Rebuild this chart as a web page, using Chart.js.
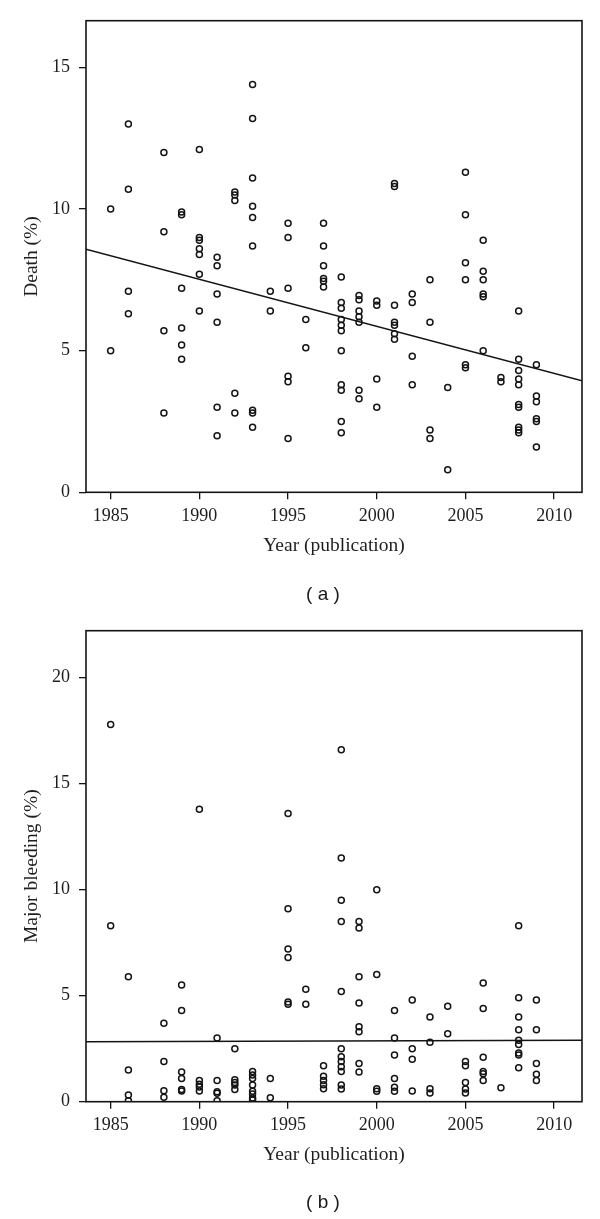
<!DOCTYPE html>
<html><head><meta charset="utf-8">
<script src="https://cdn.jsdelivr.net/npm/chart.js@4.4.1/dist/chart.umd.min.js"></script>
<style>
html,body{margin:0;padding:0;background:#fff;}
body{width:600px;height:1219px;position:relative;overflow:hidden;}
.wrap{position:absolute;left:0;width:600px;}
#wa{top:0;height:610px;}
#wb{top:610px;height:609px;}
.cap{position:absolute;width:100px;text-align:center;font-family:"Liberation Sans",Arial,sans-serif;font-size:19px;line-height:20px;color:#1a1a1a;white-space:pre;}
</style></head>
<body>
<div class="wrap" id="wa"><canvas id="ca" width="600" height="610"></canvas></div>
<div class="wrap" id="wb"><canvas id="cb" width="600" height="609"></canvas></div>
<div class="cap" style="left:273px;top:584px">( a )</div>
<div class="cap" style="left:273px;top:1192px">( b )</div>
<script>
// ---- data ----
const xTicks = [1985, 1990, 1995, 2000, 2005, 2010];
const xRange = [1983.61, 2011.57];

const deathYear = [
 1985,1985,
 1986,1986,1986,1986,
 1988,1988,1988,1988,
 1989,1989,1989,1989,1989,1989,
 1990,1990,1990,1990,1990,1990,1990,
 1991,1991,1991,1991,1991,1991,
 1992,1992,1992,1992,1992,
 1993,1993,1993,1993,1993,1993,1993,1993,1993,
 1994,1994,
 1995,1995,1995,1995,1995,1995,
 1996,1996,
 1997,1997,1997,1997,1997,1997,
 1998,1998,1998,1998,1998,1998,1998,1998,1998,1998,1998,
 1999,1999,1999,1999,1999,1999,1999,
 2000,2000,2000,2000,
 2001,2001,2001,2001,2001,2001,2001,
 2002,2002,2002,2002,
 2003,2003,2003,2003,
 2004,2004,
 2005,2005,2005,2005,2005,2005,
 2006,2006,2006,2006,2006,2006,
 2007,2007,
 2008,2008,2008,2008,2008,2008,2008,2008,2008,2008,
 2009,2009,2009,2009,2009,2009
];
const deathPct = [
 10.0,5.0,
 13.0,10.7,7.1,6.3,
 12.0,9.2,5.7,2.8,
 9.9,9.8,7.2,5.8,5.2,4.7,
 12.1,9.0,8.9,8.6,8.4,7.7,6.4,
 8.3,8.0,7.0,6.0,3.0,2.0,
 10.6,10.5,10.3,3.5,2.8,
 14.4,13.2,11.1,10.1,9.7,8.7,2.9,2.8,2.3,
 7.1,6.4,
 9.5,9.0,7.2,4.1,3.9,1.9,
 6.1,5.1,
 9.5,8.7,8.0,7.55,7.45,7.25,
 7.6,6.7,6.5,6.1,5.9,5.7,5.0,3.8,3.6,2.5,2.1,
 6.95,6.8,6.4,6.2,6.0,3.6,3.3,
 6.75,6.6,4.0,3.0,
 10.9,10.8,6.6,6.0,5.9,5.6,5.4,
 7.0,6.7,4.8,3.8,
 7.5,6.0,2.2,1.9,
 3.7,0.8,
 11.3,9.8,8.1,7.5,4.5,4.4,
 8.9,7.8,7.5,7.0,6.9,5.0,
 4.05,3.9,
 6.4,4.7,4.3,4.0,3.8,3.1,3.0,2.3,2.2,2.1,
 4.5,3.4,3.2,2.6,2.5,1.6
];
const deathFit = [{x:1983.61, y:8.58}, {x:2011.57, y:3.94}];
const deathTicks = [0, 5, 10, 15];

const bleedYear = [
 1985,1985,
 1986,1986,1986,1986,
 1988,1988,1988,1988,
 1989,1989,1989,1989,1989,1989,
 1990,1990,1990,1990,1990,
 1991,1991,1991,1991,1991,
 1992,1992,1992,1992,1992,
 1993,1993,1993,1993,1993,1993,1993,1993,
 1994,1994,
 1995,1995,1995,1995,1995,1995,
 1996,1996,
 1997,1997,1997,1997,1997,
 1998,1998,1998,1998,1998,1998,1998,1998,1998,1998,1998,1998,
 1999,1999,1999,1999,1999,1999,1999,1999,
 2000,2000,2000,2000,
 2001,2001,2001,2001,2001,2001,
 2002,2002,2002,2002,
 2003,2003,2003,2003,
 2004,2004,
 2005,2005,2005,2005,2005,
 2006,2006,2006,2006,2006,2006,
 2007,
 2008,2008,2008,2008,2008,2008,2008,2008,2008,
 2009,2009,2009,2009,2009
];
const bleedPct = [
 17.8,8.3,
 5.9,1.5,0.32,0.05,
 3.7,1.9,0.52,0.21,
 5.5,4.3,1.4,1.1,0.57,0.5,
 13.8,1.0,0.82,0.69,0.5,
 3.0,1.0,0.47,0.4,0.05,
 2.5,1.04,0.91,0.79,0.58,
 1.42,1.26,1.09,0.79,0.49,0.36,0.17,0.08,
 1.1,0.19,
 13.6,9.1,7.2,6.8,4.7,4.6,
 5.3,4.6,
 1.7,1.2,1.0,0.8,0.61,
 16.6,11.5,9.5,8.5,5.2,2.5,2.12,1.9,1.65,1.42,0.79,0.6,
 8.5,8.2,5.9,4.66,3.54,3.3,1.8,1.4,
 10.0,6.0,0.61,0.49,
 4.3,3.0,2.2,1.1,0.68,0.49,
 4.8,2.5,2.0,0.5,
 4.0,2.8,0.61,0.41,
 4.5,3.2,
 1.9,1.7,0.9,0.6,0.41,
 5.6,4.4,2.1,1.43,1.32,1.0,
 0.66,
 8.3,4.9,4.0,3.4,2.9,2.7,2.3,2.2,1.6,
 4.8,3.4,1.8,1.3,1.0
];
const bleedFit = [{x:1983.61, y:2.83}, {x:2011.57, y:2.90}];
const bleedTicks = [0, 5, 10, 15, 20];

// ---- drawing ----
const INK = '#141414';
const SERIF = '"Liberation Serif","Times New Roman",serif';

const framePlugin = {
  id: 'frame',
  afterDatasetsDraw(chart) {
    const a = chart.chartArea, ctx = chart.ctx;
    ctx.save();
    ctx.strokeStyle = INK;
    ctx.lineWidth = 1.6;
    ctx.strokeRect(a.left, a.top, a.right - a.left, a.bottom - a.top);
    ctx.restore();
  }
};

function makeChart(id, years, vals, fit, yMax, yTicks, yTitle, canvasH, plotBottom) {
  const pts = years.map((x, i) => ({x: x, y: vals[i]}));
  return new Chart(document.getElementById(id), {
    type: 'scatter',
    data: {datasets: [
      {data: pts, pointRadius: 3.0, pointHoverRadius: 3.0, pointBorderWidth: 1.5,
       borderColor: INK, backgroundColor: 'rgba(0,0,0,0)', pointBackgroundColor: 'rgba(0,0,0,0)'},
      {data: fit, showLine: true, pointRadius: 0, borderColor: INK, borderWidth: 1.4, fill: false}
    ]},
    options: {
      responsive: false, animation: false, events: [],
      layout: {padding: {left: 0, right: 18, top: 20.7, bottom: 0}},
      plugins: {legend: {display: false}, tooltip: {enabled: false}},
      scales: {
        x: {
          type: 'linear', min: xRange[0], max: xRange[1],
          afterBuildTicks: s => { s.ticks = xTicks.map(v => ({value: v})); },
          afterFit: s => { s.height = canvasH - plotBottom; },
          border: {display: false},
          grid: {display: true, drawOnChartArea: false, drawTicks: true, tickLength: 7, color: INK, lineWidth: 1.3},
          ticks: {padding: 6, color: '#1e1e1e', font: {family: SERIF, size: 18}, maxRotation: 0, autoSkip: false,
                  callback: v => String(v)},
          title: {display: true, text: 'Year (publication)', color: '#1e1e1e', font: {family: SERIF, size: 19.5},
                  padding: {top: 0, bottom: 52}}
        },
        y: {
          type: 'linear', min: 0, max: yMax,
          afterBuildTicks: s => { s.ticks = yTicks.map(v => ({value: v})); },
          afterFit: s => { s.width = 86; },
          border: {display: false},
          grid: {display: true, drawOnChartArea: false, drawTicks: true, tickLength: 7, color: INK, lineWidth: 1.3},
          ticks: {padding: 9, color: '#1e1e1e', font: {family: SERIF, size: 18}, autoSkip: false,
                  callback: v => String(v)},
          title: {display: true, text: yTitle, color: '#1e1e1e', font: {family: SERIF, size: 19.5},
                  padding: {top: 20, bottom: 0}}
        }
      }
    },
    plugins: [framePlugin]
  });
}

makeChart('ca', deathYear, deathPct, deathFit, 16.65, deathTicks, 'Death (%)', 610, 492.3);
makeChart('cb', bleedYear, bleedPct, bleedFit, 22.22, bleedTicks, 'Major bleeding (%)', 609, 491.7);
</script>
</body></html>
